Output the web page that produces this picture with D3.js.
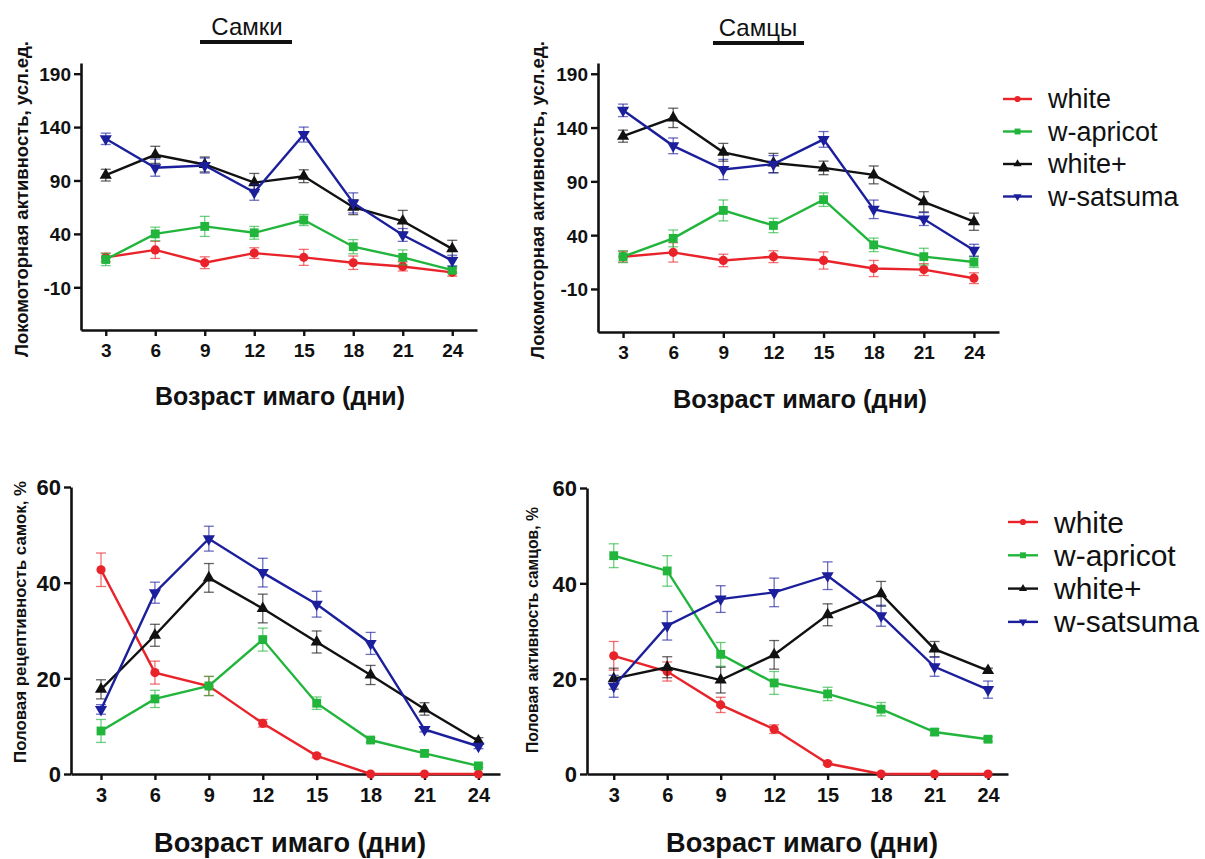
<!DOCTYPE html>
<html>
<head>
<meta charset="utf-8">
<script src="https://cdn.jsdelivr.net/npm/d3@7"></script>
<style>
  html, body { margin: 0; padding: 0; background: #fff; }
  svg { display: block; font-family: "Liberation Sans", Arial, sans-serif; }
</style>
</head>
<body>
<svg id="chart" width="1205" height="859"></svg>
<script>
// Age of adult flies, days
const days = [3, 6, 9, 12, 15, 18, 21, 24];
const seriesNames = ["white", "w-apricot", "white+", "w-satsuma"];

// Locomotor activity, females (arb. units) — mean and SEM
const locoFemWhite    = [18, 25, 13, 22, 18, 13, 9.5, 4];
const locoFemWhiteErr = [4, 8, 5.5, 5, 7.5, 6.3, 4.2, 3.6];
const locoFemApricot    = [16, 40, 47, 41, 53, 28, 18, 6];
const locoFemApricotErr = [5.7, 6.3, 9.4, 6, 5.2, 6.6, 7, 3];
const locoFemWplus    = [95, 114, 105, 88, 94, 65, 52, 26];
const locoFemWplusErr = [5.5, 8, 7, 8.6, 6, 7, 10, 8];
const locoFemSatsuma    = [129, 102, 104, 79, 133, 69, 39, 15];
const locoFemSatsumaErr = [5.3, 8, 7, 7.5, 7, 9.4, 6, 5];

// Locomotor activity, males
const locoMaleWhite    = [20, 24, 16.5, 20, 16.5, 9, 8, 0];
const locoMaleWhiteErr = [5, 9, 5.8, 5.5, 8, 7.5, 5.5, 5];
const locoMaleApricot    = [20, 37, 63, 49, 73, 31, 20, 15];
const locoMaleApricotErr = [5.5, 7.8, 9.7, 6.7, 6.3, 6.3, 7.8, 5];
const locoMaleWplus    = [132, 149, 117, 107, 102.5, 96, 71, 52.5];
const locoMaleWplusErr = [5.6, 9, 8.3, 9, 6.3, 8.3, 9.4, 8];
const locoMaleSatsuma    = [156, 123, 101, 106, 129, 64, 55, 26];
const locoMaleSatsumaErr = [5.8, 7.3, 9.4, 8, 7.3, 8.6, 6, 5.5];

// Female sexual receptivity, %
const receptWhite    = [42.7, 21.2, 18.4, 10.6, 3.8, 0, 0, 0];
const receptWhiteErr = [3.5, 2.4, 2, 0.8, 0.4, 0, 0, 0];
const receptApricot    = [9, 15.7, 18.4, 28.1, 14.8, 7.1, 4.3, 1.7];
const receptApricotErr = [2.4, 1.8, 2, 2.4, 1.3, 0.5, 0.5, 0.3];
const receptWplus    = [17.7, 29, 41, 34.6, 27.6, 20.7, 13.6, 6.9];
const receptWplusErr = [2, 2.3, 3, 3, 2.3, 2, 1.3, 0.7];
const receptSatsuma    = [13.5, 37.9, 49.2, 42.1, 35.5, 27.3, 9.3, 5.8];
const receptSatsumaErr = [1, 2.2, 2.6, 3, 2.7, 2.3, 0.5, 0.5];

// Male sexual activity, %
const sexMaleWhite    = [24.8, 21.5, 14.5, 9.4, 2.2, 0, 0, 0];
const sexMaleWhiteErr = [3, 2, 1.6, 0.9, 0.3, 0, 0, 0];
const sexMaleApricot    = [45.8, 42.6, 25.1, 19.1, 16.8, 13.6, 8.8, 7.3];
const sexMaleApricotErr = [2.5, 3.2, 2.5, 2.4, 1.4, 1.4, 0.7, 0.5];
const sexMaleWplus    = [20, 22.4, 19.7, 25, 33.4, 37.8, 26.2, 21.7];
const sexMaleWplusErr = [2.2, 2.2, 2.7, 3, 2.3, 2.6, 1.6, 0.5];
const sexMaleSatsuma    = [18.4, 31.1, 36.7, 38.1, 41.6, 33.2, 22.5, 17.7];
const sexMaleSatsumaErr = [2.3, 3, 2.8, 3, 2.9, 2.2, 2, 1.8];

// Axis tick labels
const locoTicks = [-10, 40, 90, 140, 190];
const pctTicks = [0, 20, 40, 60];

// Series styling
const seriesColor = { "white": "#e8232a", "w-apricot": "#22b53c", "white+": "#111111", "w-satsuma": "#1c1f9c" };
const seriesSymbol = { "white": "circle", "w-apricot": "square", "white+": "up", "w-satsuma": "down" };

const svg = d3.select("#chart");

function symbolPath(kind, scale) {
  const s = scale || 1;
  if (kind === "circle") return d3.symbol(d3.symbolCircle, 66 * s)();
  if (kind === "square") return d3.symbol(d3.symbolSquare, 78 * s)();
  return d3.symbol(d3.symbolTriangle, 64 * s)();
}
function symbolRotate(kind) { return kind === "down" ? " rotate(180)" : ""; }

// Size a label's font so that its run spans the given length
function fitText(sel, startSize, length) {
  sel.attr("font-size", startSize);
  const w = sel.node().getComputedTextLength();
  if (w > 0) sel.attr("font-size", (startSize * length / w).toFixed(2));
}

function panel(cfg) {
  const g = svg.append("g");
  const x = d3.scaleLinear().domain(cfg.xDomain).range([cfg.left, cfg.right]);
  const y = d3.scaleLinear().domain(cfg.yDomain).range([cfg.bottom, cfg.top]);

  // axes
  const xAxis = d3.axisBottom(x).tickValues(days).tickSize(6).tickSizeOuter(0).tickPadding(8)
    .tickFormat(d => String(d));
  const yAxis = d3.axisLeft(y).tickValues(cfg.yTicks).tickSize(7).tickSizeOuter(0).tickPadding(3)
    .tickFormat(d => String(d));

  const gx = g.append("g").attr("transform", `translate(0,${cfg.bottom})`).call(xAxis);
  const gy = g.append("g").attr("transform", `translate(${cfg.left},0)`).call(yAxis);
  [gx, gy].forEach(a => {
    a.select(".domain").attr("stroke", "#111").attr("stroke-width", 2.6);
    a.selectAll(".tick line").attr("stroke", "#111").attr("stroke-width", 2.4);
    a.selectAll(".tick text").attr("fill", "#111").attr("font-weight", "bold")
      .attr("font-family", "'Liberation Sans', Arial, sans-serif");
  });
  gx.selectAll(".tick text").attr("font-size", cfg.xTickSize);
  gy.selectAll(".tick text").attr("font-size", cfg.yTickSize).attr("dy", "0.36em");

  // series
  cfg.series.forEach(s => {
    const color = seriesColor[s.name];
    const pts = days.map((d, i) => ({ d, v: s.values[i], e: s.errors[i] }));
    const sg = g.append("g");
    // error bars
    const eb = sg.selectAll("g.err").data(pts.filter(p => p.e > 0)).join("g").attr("class", "err")
      .attr("stroke", color).attr("stroke-opacity", 0.65).attr("stroke-width", 1.3);
    eb.append("line").attr("x1", p => x(p.d)).attr("x2", p => x(p.d))
      .attr("y1", p => y(p.v - p.e)).attr("y2", p => y(p.v + p.e));
    eb.append("line").attr("x1", p => x(p.d) - 5).attr("x2", p => x(p.d) + 5)
      .attr("y1", p => y(p.v + p.e)).attr("y2", p => y(p.v + p.e));
    eb.append("line").attr("x1", p => x(p.d) - 5).attr("x2", p => x(p.d) + 5)
      .attr("y1", p => y(p.v - p.e)).attr("y2", p => y(p.v - p.e));
    // line
    sg.append("path").datum(pts)
      .attr("fill", "none").attr("stroke", color).attr("stroke-width", 2.4)
      .attr("d", d3.line().x(p => x(p.d)).y(p => y(p.v)));
    // markers
    const kind = seriesSymbol[s.name];
    sg.selectAll("path.mk").data(pts).join("path").attr("class", "mk")
      .attr("d", symbolPath(kind))
      .attr("transform", p => `translate(${x(p.d)},${y(p.v)})${symbolRotate(kind)}`)
      .attr("fill", color);
  });

  // axis titles
  const xt = g.append("text").attr("x", cfg.xTitle[0]).attr("y", cfg.xTitle[1])
    .attr("text-anchor", "middle").attr("font-weight", "bold")
    .attr("fill", "#111").text("Возраст имаго (дни)");
  fitText(xt, 24, cfg.xTitleLen);
  const yt = g.append("text")
    .attr("transform", `translate(${cfg.yTitle[0]},${cfg.yTitle[1]}) rotate(-90)`)
    .attr("text-anchor", "middle").attr("font-weight", "bold")
    .attr("fill", "#111").text(cfg.yLabel);
  fitText(yt, 16, cfg.yTitleLen);

  if (cfg.title) {
    g.append("text").attr("x", cfg.title.x).attr("y", cfg.title.y)
      .attr("text-anchor", "middle").attr("font-size", 24).attr("fill", "#111").text(cfg.title.text);
    g.append("line").attr("x1", cfg.title.u0).attr("x2", cfg.title.u1)
      .attr("y1", cfg.title.y + 7).attr("y2", cfg.title.y + 7)
      .attr("stroke", "#111").attr("stroke-width", 4);
  }
}

function legend(lx, ly, step, fontSize, lineLen) {
  const g = svg.append("g").attr("transform", `translate(${lx},${ly})`);
  seriesNames.forEach((name, i) => {
    const row = g.append("g").attr("transform", `translate(0,${i * step})`);
    const color = seriesColor[name];
    row.append("line").attr("x1", 0).attr("x2", lineLen).attr("y1", 0).attr("y2", 0)
      .attr("stroke", color).attr("stroke-width", 2.4);
    const kind = seriesSymbol[name];
    row.append("path").attr("d", symbolPath(kind, 0.45))
      .attr("transform", `translate(${lineLen / 2},0)${symbolRotate(kind)}`).attr("fill", color);
    row.append("text").attr("x", lineLen + 16).attr("y", 0).attr("dy", "0.35em")
      .attr("font-size", fontSize).attr("fill", "#111").text(name);
  });
}

panel({
  left: 81, right: 477, top: 63, bottom: 330,
  xDomain: [1.5, 25.5], yDomain: [-50, 200], yTicks: locoTicks,
  xTickSize: 19, yTickSize: 19,
  xTitle: [280, 405], xTitleLen: 250,
  yTitle: [28, 199], yTitleLen: 316, yLabel: "Локомоторная активность, усл.ед.",
  title: { text: "Самки", x: 247, y: 35, u0: 200, u1: 292 },
  series: [
    { name: "white", values: locoFemWhite, errors: locoFemWhiteErr },
    { name: "w-apricot", values: locoFemApricot, errors: locoFemApricotErr },
    { name: "white+", values: locoFemWplus, errors: locoFemWplusErr },
    { name: "w-satsuma", values: locoFemSatsuma, errors: locoFemSatsumaErr }
  ]
});

panel({
  left: 598, right: 999, top: 63, bottom: 332,
  xDomain: [1.5, 25.5], yDomain: [-50, 200], yTicks: locoTicks,
  xTickSize: 19, yTickSize: 19,
  xTitle: [800, 408], xTitleLen: 254,
  yTitle: [544, 200], yTitleLen: 318, yLabel: "Локомоторная активность, усл.ед.",
  title: { text: "Самцы", x: 758, y: 36, u0: 713, u1: 804 },
  series: [
    { name: "white", values: locoMaleWhite, errors: locoMaleWhiteErr },
    { name: "w-apricot", values: locoMaleApricot, errors: locoMaleApricotErr },
    { name: "white+", values: locoMaleWplus, errors: locoMaleWplusErr },
    { name: "w-satsuma", values: locoMaleSatsuma, errors: locoMaleSatsumaErr }
  ]
});

panel({
  left: 71, right: 500, top: 487, bottom: 774,
  xDomain: [1.33, 25.2], yDomain: [0, 60], yTicks: pctTicks,
  xTickSize: 20, yTickSize: 22,
  xTitle: [290, 852], xTitleLen: 272,
  yTitle: [26, 622], yTitleLen: 282, yLabel: "Половая рецептивность самок, %",
  series: [
    { name: "white", values: receptWhite, errors: receptWhiteErr },
    { name: "w-apricot", values: receptApricot, errors: receptApricotErr },
    { name: "white+", values: receptWplus, errors: receptWplusErr },
    { name: "w-satsuma", values: receptSatsuma, errors: receptSatsumaErr }
  ]
});

panel({
  left: 587, right: 1008, top: 488, bottom: 774,
  xDomain: [1.5, 25.12], yDomain: [0, 60], yTicks: pctTicks,
  xTickSize: 20, yTickSize: 22,
  xTitle: [802, 852], xTitleLen: 272,
  yTitle: [538, 630], yTitleLen: 246, yLabel: "Половая активность самцов, %",
  series: [
    { name: "white", values: sexMaleWhite, errors: sexMaleWhiteErr },
    { name: "w-apricot", values: sexMaleApricot, errors: sexMaleApricotErr },
    { name: "white+", values: sexMaleWplus, errors: sexMaleWplusErr },
    { name: "w-satsuma", values: sexMaleSatsuma, errors: sexMaleSatsumaErr }
  ]
});

legend(1003, 99, 32.5, 27, 29);
legend(1008, 522, 33.3, 30, 30);
</script>
</body>
</html>
